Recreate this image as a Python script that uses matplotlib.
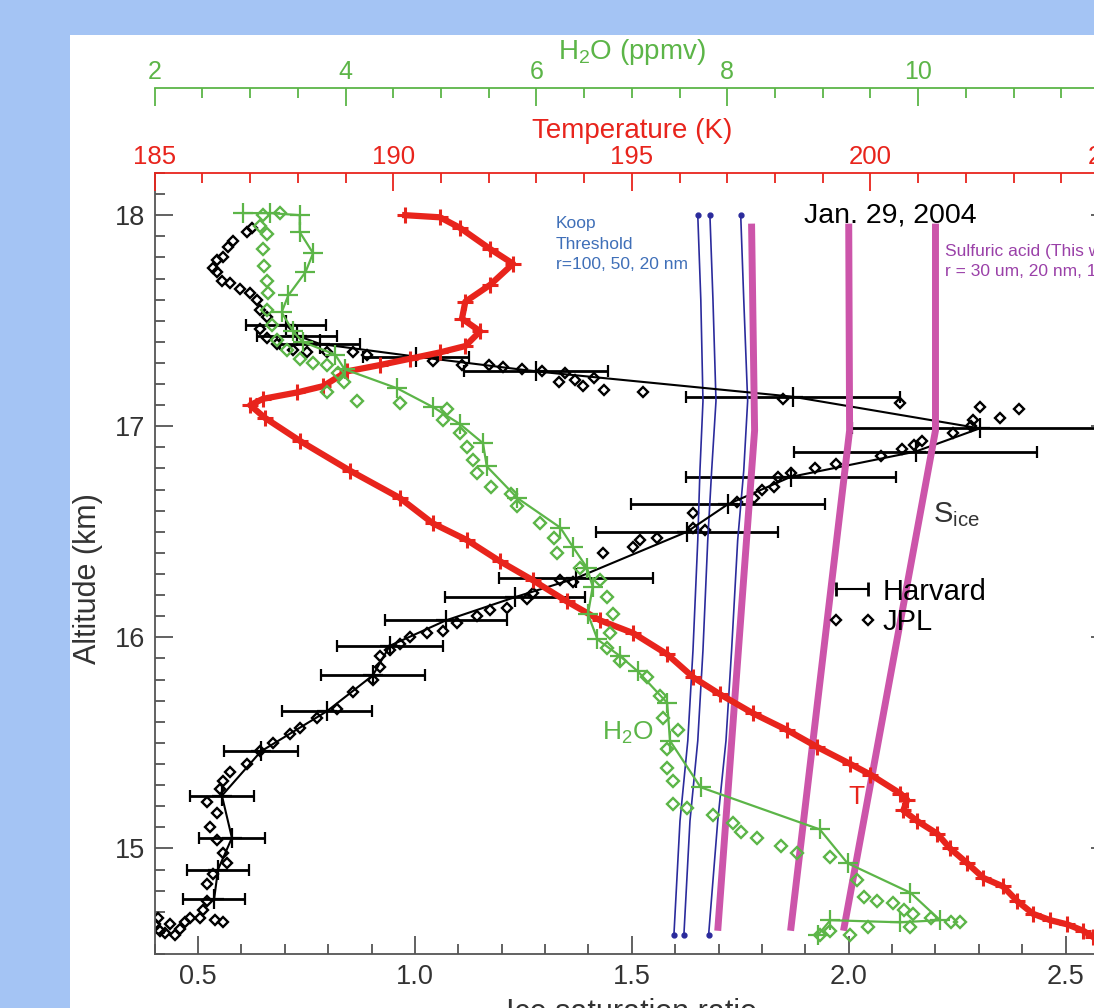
import matplotlib
matplotlib.use('Agg')
import matplotlib.pyplot as plt
from matplotlib.lines import Line2D
from matplotlib.patches import Rectangle
from matplotlib.ticker import MultipleLocator, FormatStrFormatter

plt.rcParams['font.family'] = ['Liberation Sans', 'DejaVu Sans']
plt.rcParams['mathtext.default'] = 'regular'

# temperature profile (K) vs altitude (km)
temp_k = [190.25, 190.98, 191.40, 192.03, 192.51, 192.03, 191.51, 191.44, 191.82, 191.51,
          190.98, 190.35, 189.72, 189.03, 188.53, 187.98, 187.27, 187.00, 187.31, 188.05,
          189.09, 190.14, 190.83, 191.55, 192.24, 192.93, 193.64, 194.34, 195.03, 195.74,
          196.29, 196.85, 197.54, 198.26, 198.89, 199.58, 200.00, 200.63, 200.77, 200.69,
          200.98, 201.40, 201.67, 202.03, 202.37, 202.78, 203.08, 203.41, 203.77, 204.13,
          204.46, 204.67]
temp_alt = [18.00, 17.99, 17.94, 17.84, 17.77, 17.67, 17.59, 17.51, 17.45, 17.38,
            17.35, 17.32, 17.29, 17.26, 17.19, 17.16, 17.13, 17.10, 17.04, 16.93,
            16.79, 16.66, 16.54, 16.46, 16.36, 16.27, 16.17, 16.08, 16.02, 15.92,
            15.81, 15.73, 15.64, 15.56, 15.48, 15.40, 15.35, 15.26, 15.23, 15.18,
            15.13, 15.07, 15.00, 14.93, 14.86, 14.82, 14.75, 14.69, 14.66, 14.64,
            14.61, 14.58]

# Harvard H2O (ppmv)
h2o_harv = [2.93, 3.21, 3.52, 3.52, 3.66, 3.58, 3.40, 3.33, 3.45, 3.55,
            3.89, 3.99, 4.54, 4.92, 5.20, 5.44, 5.48, 5.80, 6.25, 6.38,
            6.53, 6.59, 6.54, 6.64, 6.88, 7.06, 7.37, 7.40, 7.72, 8.97,
            9.26, 9.92, 10.23, 9.81, 9.08, 8.95]
h2o_harv_alt = [18.01, 18.01, 18.00, 17.92, 17.82, 17.73, 17.62, 17.54, 17.45, 17.40,
                17.34, 17.27, 17.18, 17.09, 17.01, 16.92, 16.81, 16.66, 16.52, 16.43,
                16.33, 16.24, 16.11, 15.99, 15.91, 15.84, 15.69, 15.51, 15.29, 15.09,
                14.93, 14.79, 14.66, 14.65, 14.66, 14.59]

# JPL H2O (ppmv)
h2o_jpl = [3.13, 3.31, 3.10, 3.18, 3.13, 3.15, 3.18, 3.19, 3.18, 3.23,
           3.28, 3.39, 3.52, 3.66, 3.81, 3.92, 3.98, 3.81, 4.12, 4.57,
           5.06, 5.02, 5.20, 5.27, 5.34, 5.38, 5.52, 5.73, 5.80, 6.04,
           6.18, 6.22, 6.46, 6.67, 6.74, 6.80, 6.77, 6.74, 6.88, 7.16,
           7.30, 7.33, 7.48, 7.37, 7.37, 7.43, 7.43, 7.58, 7.85, 8.06,
           8.14, 8.31, 8.56, 8.73, 9.08, 9.36, 9.43, 9.57, 9.74, 9.85,
           9.95, 10.13, 10.34, 10.44, 9.92, 9.47, 9.08, 8.97, 9.29]
h2o_jpl_alt = [18.00, 18.01, 17.95, 17.91, 17.84, 17.76, 17.69, 17.63, 17.55, 17.48,
               17.41, 17.36, 17.32, 17.30, 17.29, 17.25, 17.21, 17.16, 17.12, 17.11,
               17.08, 17.03, 16.97, 16.90, 16.84, 16.78, 16.71, 16.68, 16.62, 16.54,
               16.47, 16.40, 16.33, 16.27, 16.19, 16.11, 16.02, 15.95, 15.89, 15.81,
               15.72, 15.62, 15.56, 15.47, 15.38, 15.32, 15.21, 15.19, 15.16, 15.12,
               15.08, 15.05, 15.01, 14.98, 14.96, 14.85, 14.77, 14.75, 14.74, 14.71,
               14.69, 14.67, 14.65, 14.65, 14.63, 14.63, 14.61, 14.59, 14.59]

# JPL ice saturation ratio
sice_jpl = [0.624, 0.613, 0.581, 0.569, 0.558, 0.544, 0.535, 0.544, 0.555, 0.574,
            0.597, 0.620, 0.636, 0.643, 0.659, 0.643, 0.659, 0.682, 0.719, 0.751,
            0.797, 0.857, 0.889, 1.041, 1.108, 1.171, 1.203, 1.247, 1.293, 1.346,
            1.332, 1.369, 1.387, 1.412, 1.435, 1.525, 1.848, 2.118, 2.302, 2.348,
            2.392, 2.286, 2.281, 2.240, 2.168, 2.150, 2.122, 2.074, 1.970, 1.922,
            1.866, 1.836, 1.827, 1.800, 1.781, 1.742, 1.641, 1.641, 1.668, 1.558,
            1.518, 1.502, 1.433, 1.364, 1.334, 1.272, 1.258, 1.212, 1.173, 1.143,
            1.097, 1.065, 1.028, 0.988, 0.965, 0.942, 0.919, 0.919, 0.903, 0.857,
            0.820, 0.774, 0.735, 0.712, 0.673, 0.643, 0.613, 0.574, 0.558, 0.551,
            0.521, 0.544, 0.528, 0.544, 0.558, 0.567, 0.535, 0.521, 0.521, 0.512,
            0.505, 0.470, 0.435, 0.412, 0.447, 0.539, 0.558, 0.408, 0.424, 0.459,
            0.482, 0.401]
sice_jpl_alt = [17.94, 17.92, 17.88, 17.85, 17.80, 17.79, 17.75, 17.73, 17.69, 17.68,
                17.65, 17.63, 17.60, 17.55, 17.52, 17.46, 17.42, 17.39, 17.36, 17.35,
                17.35, 17.35, 17.34, 17.31, 17.29, 17.29, 17.28, 17.27, 17.26, 17.25,
                17.21, 17.22, 17.19, 17.23, 17.17, 17.16, 17.13, 17.11, 17.09, 17.04,
                17.08, 17.03, 17.00, 16.97, 16.93, 16.91, 16.89, 16.86, 16.82, 16.80,
                16.78, 16.76, 16.71, 16.70, 16.66, 16.64, 16.59, 16.52, 16.51, 16.47,
                16.46, 16.43, 16.40, 16.26, 16.27, 16.21, 16.18, 16.14, 16.13, 16.10,
                16.07, 16.03, 16.02, 16.00, 15.97, 15.94, 15.91, 15.86, 15.80, 15.74,
                15.66, 15.62, 15.57, 15.54, 15.50, 15.46, 15.40, 15.36, 15.32, 15.28,
                15.22, 15.17, 15.10, 15.04, 14.98, 14.93, 14.88, 14.83, 14.75, 14.71,
                14.67, 14.65, 14.64, 14.61, 14.59, 14.66, 14.65, 14.67, 14.60, 14.62,
                14.67, 14.64]

# Harvard ice saturation ratio with error
sice_harv = [0.703, 0.728, 0.781, 1.002, 1.279, 1.871, 2.302, 2.154, 1.866, 1.721,
             1.627, 1.371, 1.230, 1.071, 0.942, 0.903, 0.797, 0.645, 0.555, 0.578,
             0.546, 0.537]
sice_harv_err = [0.092, 0.092, 0.092, 0.122, 0.166, 0.247, 0.295, 0.281, 0.242, 0.224,
                 0.210, 0.177, 0.161, 0.141, 0.122, 0.120, 0.104, 0.085, 0.074, 0.076,
                 0.071, 0.071]
sice_harv_alt = [17.48, 17.43, 17.39, 17.33, 17.26, 17.14, 16.99, 16.88, 16.76, 16.63,
                 16.50, 16.28, 16.19, 16.08, 15.96, 15.82, 15.65, 15.46, 15.25, 15.05,
                 14.90, 14.76]

# Koop threshold, r = 100, 50, 20 nm
koop_alt = [18.00, 17.60, 17.12, 16.79, 16.46, 15.94, 15.51, 15.13, 14.59]
koop_r100 = [1.652, 1.659, 1.664, 1.657, 1.652, 1.641, 1.629, 1.611, 1.597]
koop_r50 = [1.680, 1.687, 1.694, 1.684, 1.675, 1.664, 1.652, 1.634, 1.620]
koop_r20 = [1.751, 1.758, 1.767, 1.758, 1.744, 1.730, 1.717, 1.698, 1.677]

# sulfuric acid thresholds
sulf_alt = [17.96, 16.98, 14.61]
sulf_a = [1.776, 1.783, 1.698]
sulf_b = [2.000, 2.002, 1.866]
sulf_c = [2.200, 2.200, 1.988]

RED = '#e8241c'
GREEN = '#5cb548'
MAG = '#cc55aa'
BLUE = '#2b2b9c'
GRAY = '#555555'


def main():
  fig = plt.figure(figsize=(10.94, 10.08), dpi=100, facecolor='#a4c4f4')
  fig.add_artist(Rectangle((70 / 1094, 0), 1, 1 - 35 / 1008, transform=fig.transFigure,
                           facecolor='white', edgecolor='none', zorder=-1))

  ax = fig.add_axes([0.1414, 0.0536, 0.8723, 0.7748])
  ax_t = ax.twiny()
  ax_h = ax.twiny()

  # main axes: saturation ratio vs altitude
  ax.set_xlim(0.4, 2.6)
  ax.set_ylim(14.5, 18.2)
  ax.xaxis.set_major_locator(MultipleLocator(0.5))
  ax.xaxis.set_minor_locator(MultipleLocator(0.1))
  ax.xaxis.set_major_formatter(FormatStrFormatter('%.1f'))
  ax.yaxis.set_major_locator(MultipleLocator(1))
  ax.yaxis.set_minor_locator(MultipleLocator(0.1))
  ax.spines['top'].set_visible(False)
  for s in ['left', 'bottom', 'right']:
    ax.spines[s].set_color(GRAY)
    ax.spines[s].set_linewidth(1.3)
  ax.tick_params(which='both', direction='in', right=True, top=False, color=GRAY,
                 labelcolor='#333333', labelsize=19.5, pad=7, width=1.3)
  ax.tick_params(which='major', length=13)
  ax.tick_params(which='minor', length=7)
  ax.set_xlabel('Ice saturation ratio', fontsize=22, color='#333333', labelpad=6)
  ax.set_ylabel('Altitude (km)', fontsize=22, color='#333333', labelpad=8)
  ax.yaxis.label.set_y(0.481)

  # temperature axis
  ax_t.set_xlim(185, 205)
  ax_t.xaxis.set_major_locator(MultipleLocator(5))
  ax_t.xaxis.set_minor_locator(MultipleLocator(1))
  for s in ['left', 'bottom', 'right']:
    ax_t.spines[s].set_visible(False)
  ax_t.spines['top'].set_color(RED)
  ax_t.spines['top'].set_linewidth(1.3)
  ax_t.tick_params(which='both', direction='in', color=RED, labelcolor=RED,
                   labelsize=18.5, pad=3, width=1.3)
  ax_t.tick_params(which='major', length=13)
  ax_t.tick_params(which='minor', length=7)
  ax_t.set_xlabel('Temperature (K)', fontsize=20, color=RED, labelpad=5)

  # H2O axis
  ax_h.set_xlim(2, 12)
  ax_h.xaxis.set_major_locator(MultipleLocator(2))
  ax_h.xaxis.set_minor_locator(MultipleLocator(0.5))
  for s in ['left', 'bottom', 'right']:
    ax_h.spines[s].set_visible(False)
  ax_h.spines['top'].set_position(('outward', 61))
  ax_h.spines['top'].set_color(GREEN)
  ax_h.spines['top'].set_linewidth(1.3)
  ax_h.tick_params(which='both', direction='in', color=GREEN, labelcolor=GREEN,
                   labelsize=18, pad=3, width=1.3)
  ax_h.tick_params(which='major', length=13)
  ax_h.tick_params(which='minor', length=7)
  ax_h.set_xlabel('H$_2$O (ppmv)', fontsize=20, color=GREEN, labelpad=1)

  # saturation ratio data
  ax.plot(sice_jpl, sice_jpl_alt, ls='none', marker='D', ms=5.5, mfc='none',
          mec='black', mew=1.7)
  ax.errorbar(sice_harv, sice_harv_alt, xerr=sice_harv_err, fmt='-+', color='black',
              lw=1.5, elinewidth=2, capsize=4, capthick=2, ms=14, mew=1.6)

  for k in [koop_r100, koop_r50, koop_r20]:
    ax.plot(k, koop_alt, color=BLUE, lw=1.2, marker='o', ms=3.5,
            markevery=[0, len(k) - 1])
  for sa in [sulf_a, sulf_b, sulf_c]:
    ax.plot(sa, sulf_alt, color=MAG, lw=5, solid_capstyle='butt', zorder=4)

  # temperature
  ax_t.plot(temp_k, temp_alt, color=RED, lw=4.5, marker='+', ms=12, mew=2.2)

  # H2O
  ax_h.plot(h2o_harv, h2o_harv_alt, color=GREEN, lw=1.6, marker='+', ms=14, mew=1.6)
  ax_h.plot(h2o_jpl, h2o_jpl_alt, ls='none', marker='D', ms=6, mfc='none',
            mec=GREEN, mew=1.7)

  # annotations
  ax.text(1.325, 17.995, 'Koop\nThreshold\nr=100, 50, 20 nm', color='#3f6fb8',
          fontsize=12.5, va='top', linespacing=1.45)
  ax.text(2.097, 18.0, 'Jan. 29, 2004', fontsize=20.5, ha='center', va='center')
  ax.text(2.221, 17.78, 'Sulfuric acid (This work)\nr = 30 um, 20 nm, 10 nm',
          color='#9a40a8', fontsize=12.5, va='center', linespacing=1.45)
  ax.text(2.195, 16.58, 'S$_{ice}$', fontsize=21, color='#333333', va='center')
  ax.text(1.491, 15.545, 'H$_2$O', color=GREEN, fontsize=19, ha='center', va='center')
  ax.text(2.018, 15.242, 'T', color=RED, fontsize=19, ha='center', va='center')

  handles = [Line2D([], [], color='black', lw=1.5, marker='|', ms=10, mew=2),
             Line2D([], [], ls='none', marker='D', ms=5.5, mfc='none', mec='black', mew=1.7)]
  ax.legend(handles, ['Harvard', 'JPL'], loc='upper left', bbox_to_anchor=(0.705, 0.482),
            frameon=False, fontsize=21, handlelength=1.7, handletextpad=0.2,
            numpoints=2, borderpad=0, borderaxespad=0, labelspacing=0.1)

  fig.savefig('out.png', dpi=100, facecolor=fig.get_facecolor())


if __name__ == '__main__':
  main()
